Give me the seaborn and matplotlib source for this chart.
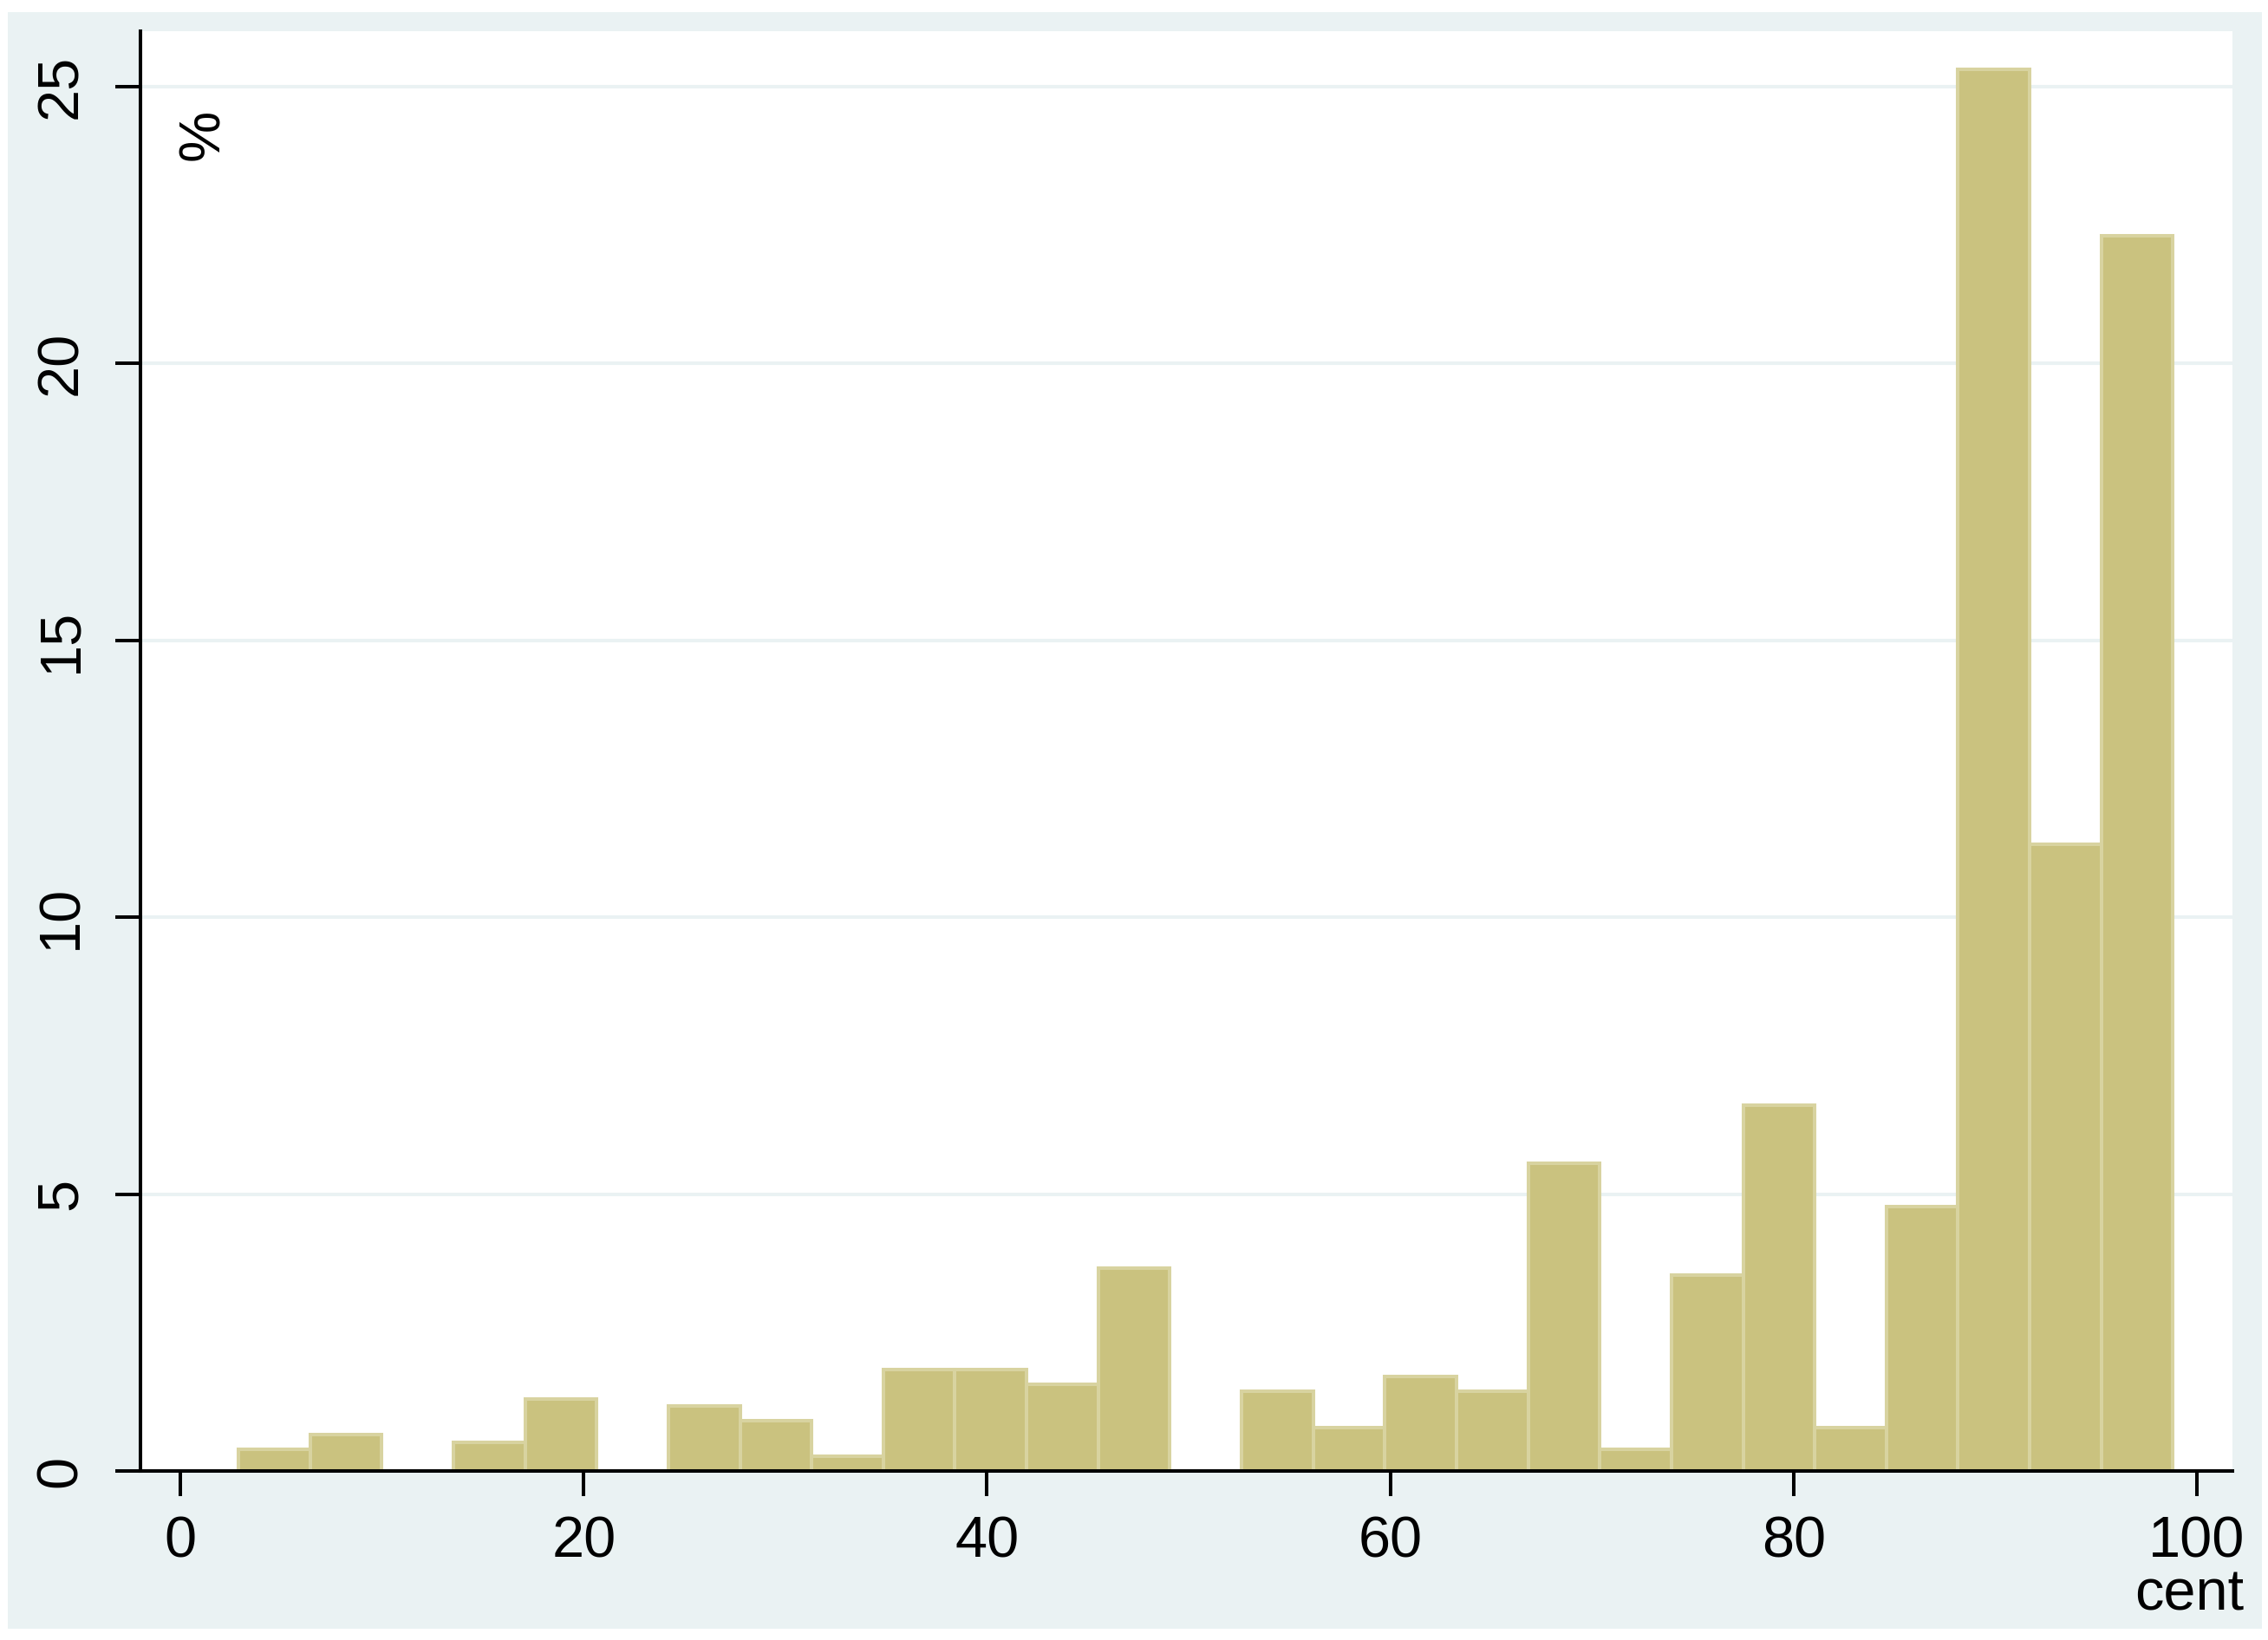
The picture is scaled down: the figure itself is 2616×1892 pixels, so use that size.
import numpy as np
import pandas as pd
import matplotlib
matplotlib.use("Agg")
import matplotlib.pyplot as plt
import seaborn as sns
from matplotlib.patches import Rectangle

# ---- data ----
bin_start = 2.88
bin_width = 3.553
percent = [0.39, 0.66, 0.0, 0.52, 1.30, 0.0, 1.18, 0.91, 0.27, 1.83, 1.83, 1.57, 3.66, 0.0,
           1.44, 0.78, 1.70, 1.44, 5.56, 0.39, 3.54, 6.61, 0.78, 4.78, 25.31, 11.32, 22.31]
x_ticks = [0, 20, 40, 60, 80, 100]
y_ticks = [0, 5, 10, 15, 20, 25]
x_title = "cent"
y_title = "%"

n_bins = len(percent)
edges = [float(bin_start + bin_width * i) for i in range(n_bins + 1)]
centers = [(edges[i] + edges[i + 1]) / 2 for i in range(n_bins)]
df = pd.DataFrame({"cent": centers, "pct": percent})

sns.set_theme(style="white")
plt.rcParams["font.family"] = ["Liberation Sans", "DejaVu Sans"]

W, H = 2616, 1892
dpi = 200
fig = plt.figure(figsize=(W / dpi, H / dpi), dpi=dpi, facecolor="white")

bg = "#EAF2F3"
# graph region (light blue)
fig.patches.append(Rectangle((9 / W, 1 - 1879 / H), (2609 - 9) / W, (1879 - 14) / H,
                             transform=fig.transFigure, facecolor=bg, edgecolor="none", zorder=-5))

ax = fig.add_axes([162 / W, 1 - 1697 / H, (2575 - 162) / W, (1697 - 36) / H])
ax.set_zorder(1)
ax.set_facecolor("white")

sns.histplot(data=df, x="cent", weights="pct", bins=edges, stat="count", ax=ax,
             color="#CAC27F", edgecolor="#D8D3A0", linewidth=1.45, alpha=1)

ax.set_xlim(-1.98, 101.76)
ax.set_ylim(0, 26.0)
ax.set_xticks(x_ticks)
ax.set_yticks(y_ticks)
ax.set_xticklabels([str(t) for t in x_ticks])
ax.set_yticklabels([str(t) for t in y_ticks])
ax.set_xlabel("")
ax.set_ylabel("")

for yv in y_ticks[1:]:
    ax.axhline(yv, color=bg, linewidth=1.45, zorder=0.5)

for s in ["top", "right"]:
    ax.spines[s].set_visible(False)
for s in ["left", "bottom"]:
    ax.spines[s].set_color("black")
    ax.spines[s].set_linewidth(1.45)
    ax.spines[s].set_zorder(3)

ax.tick_params(axis="both", which="major", direction="out", length=10.5, width=1.45,
               color="black", labelcolor="black", labelsize=24, bottom=True, left=True)
ax.tick_params(axis="x", pad=8)
ax.tick_params(axis="y", pad=11, labelrotation=90)
for lab in ax.get_yticklabels():
    lab.set_va("center")

fig.text(2588 / W, 1 - 1857 / H, x_title, ha="right", va="baseline", fontsize=24, color="black")
fig.text(235 / W, 1 - 155 / H, y_title, ha="center", va="center", rotation=90, fontsize=24,
         color="black", zorder=5)

fig.savefig("out.png", dpi=dpi, facecolor="white")
